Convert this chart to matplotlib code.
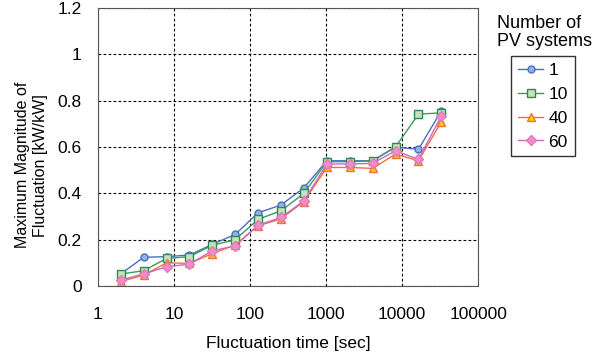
import matplotlib.pyplot as plt
from matplotlib.ticker import FuncFormatter

plt.rcParams["font.family"] = ["Liberation Sans", "DejaVu Sans"]

fluct_time = [2, 4, 8, 16, 32, 64, 128, 256, 512, 1024, 2048, 4096, 8192, 16384, 32768]

pv_1 = [0.052, 0.124, 0.127, 0.134, 0.18, 0.223, 0.316, 0.35, 0.424, 0.541, 0.541, 0.541, 0.60, 0.59, 0.757]
pv_10 = [0.052, 0.066, 0.119, 0.127, 0.176, 0.20, 0.288, 0.325, 0.40, 0.537, 0.537, 0.541, 0.601, 0.742, 0.748]
pv_40 = [0.019, 0.047, 0.10, 0.098, 0.14, 0.177, 0.26, 0.29, 0.365, 0.512, 0.512, 0.508, 0.57, 0.541, 0.709]
pv_60 = [0.026, 0.052, 0.083, 0.095, 0.152, 0.174, 0.263, 0.296, 0.368, 0.527, 0.527, 0.53, 0.584, 0.547, 0.734]

labels = ["1", "10", "40", "60"]
series = [pv_1, pv_10, pv_40, pv_60]
markers = ["o", "s", "^", "D"]
line_colors = ["#4a6fc0", "#3e9a5e", "#f0703a", "#cc66c8"]
face_colors = ["#8fb4e3", "#c4e3bc", "#ffd000", "#f08cc8"]
edge_colors = ["#4a6fc0", "#2f8a4e", "#f0703a", "#e07ab8"]
sizes = [5, 6, 6, 5]

fig = plt.figure(figsize=(6, 3.54), dpi=100)
ax = fig.add_axes([0.163, 0.192, 0.634, 0.785])

for vals, lab, m, lc, fc, ec, ms in zip(series, labels, markers, line_colors, face_colors, edge_colors, sizes):
    ax.plot(fluct_time, vals, marker=m, color=lc, markerfacecolor=fc,
            markeredgecolor=ec, markersize=ms, linewidth=1, label=lab)

ax.set_xscale("log")
ax.set_xlim(1, 100000)
ax.set_ylim(0, 1.2)
ax.set_xticks([1, 10, 100, 1000, 10000, 100000])
ax.xaxis.set_major_formatter(FuncFormatter(lambda v, p: f"{int(v)}"))
ax.minorticks_off()
ax.set_yticks([0, 0.2, 0.4, 0.6, 0.8, 1.0, 1.2])
ax.yaxis.set_major_formatter(FuncFormatter(lambda v, p: f"{v:g}"))
ax.tick_params(length=0, labelsize=12.5, pad=15)
ax.tick_params(axis="y", pad=11.5)
ax.grid(True, color="black", linestyle=(0, (2.5, 2)), linewidth=0.8)
for s in ax.spines.values():
    s.set_color("#555555")

ax.set_xlabel("Fluctuation time [sec]", fontsize=12.5, labelpad=10)
ax.set_ylabel("Maximum Magnitude of\nFluctuation [kW/kW]", fontsize=11.5, linespacing=1.25)
ax.yaxis.set_label_coords(-0.132, 0.435)

fig.text(0.828, 0.908, "Number of\nPV systems", fontsize=13, va="center", ha="left", linespacing=1.1)
leg = fig.legend(loc="upper left", bbox_to_anchor=(0.852, 0.842), fontsize=12.5,
                 frameon=True, fancybox=False, edgecolor="black", handlelength=1.45,
                 handletextpad=0.3, borderpad=0.4, borderaxespad=0, labelspacing=0.5)
leg.get_frame().set_linewidth(1.0)

fig.savefig("out.png", dpi=100)
